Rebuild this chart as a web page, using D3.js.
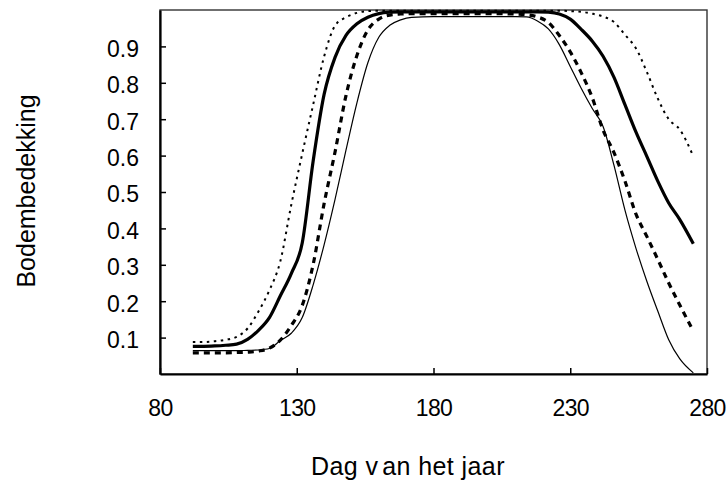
<!DOCTYPE html>
<html>
<head>
<meta charset="utf-8">
<script src="https://cdn.jsdelivr.net/npm/d3@7"></script>
<style>
  html, body { margin: 0; padding: 0; background: #fff; }
  svg { display: block; }
</style>
</head>
<body>
<svg id="chart" width="728" height="484"></svg>
<script>
// Dag van het jaar (gedeelde x-waarden voor alle reeksen)
const days = [92, 96, 100, 104, 108, 112, 116, 120, 124, 128, 132, 136, 140, 144, 148,
  152, 156, 160, 164, 168, 172, 180, 190, 200, 210, 214, 218, 222, 226, 230, 234, 238,
  242, 246, 250, 254, 258, 262, 266, 270, 275];

// Bodembedekking per reeks
const dotted = [0.088, 0.088, 0.090, 0.094, 0.102, 0.125, 0.172, 0.230, 0.310, 0.465, 0.605,
  0.740, 0.872, 0.957, 0.980, 0.992, 0.997, 0.998, 0.998, 0.998, 0.998, 0.998, 0.998, 0.998,
  0.998, 0.998, 0.998, 0.998, 0.998, 0.997, 0.995, 0.990, 0.982, 0.967, 0.932, 0.895, 0.830,
  0.757, 0.700, 0.672, 0.598];

const thick = [0.076, 0.076, 0.077, 0.079, 0.082, 0.095, 0.120, 0.155, 0.215, 0.276, 0.360,
  0.585, 0.768, 0.870, 0.930, 0.962, 0.980, 0.990, 0.994, 0.995, 0.995, 0.995, 0.995, 0.995,
  0.995, 0.995, 0.995, 0.994, 0.989, 0.975, 0.947, 0.915, 0.873, 0.815, 0.740, 0.665, 0.598,
  0.530, 0.470, 0.425, 0.358];

const dashed = [0.058, 0.058, 0.058, 0.058, 0.059, 0.060, 0.063, 0.071, 0.093, 0.133, 0.188,
  0.301, 0.468, 0.610, 0.765, 0.875, 0.945, 0.975, 0.986, 0.989, 0.990, 0.990, 0.990, 0.990,
  0.989, 0.987, 0.981, 0.966, 0.930, 0.885, 0.828, 0.760, 0.670, 0.608, 0.530, 0.440, 0.378,
  0.315, 0.250, 0.190, 0.118];

const thin = [0.064, 0.064, 0.064, 0.064, 0.064, 0.065, 0.066, 0.070, 0.092, 0.112, 0.155,
  0.245, 0.355, 0.480, 0.615, 0.745, 0.855, 0.925, 0.958, 0.973, 0.980, 0.982, 0.982, 0.982,
  0.982, 0.981, 0.970, 0.948, 0.905, 0.845, 0.785, 0.730, 0.680, 0.573, 0.450, 0.346, 0.255,
  0.173, 0.094, 0.042, 0.003];

// As-instellingen
const xTicks = [80, 130, 180, 230, 280];
const yTicks = [0.1, 0.2, 0.3, 0.4, 0.5, 0.6, 0.7, 0.8, 0.9];
const xTitleParts = ["Dag v", "an het jaar"];
const yTitle = "Bodembedekking";

const svg = d3.select("#chart");
const plot = { left: 160, right: 707, top: 10, bottom: 374 };

const x = d3.scaleLinear().domain([80, 280]).range([plot.left, plot.right]);
const y = d3.scaleLinear().domain([0, 1]).range([plot.bottom, plot.top]);

// Kader rond het plotgebied
svg.append("rect")
  .attr("x", plot.left).attr("y", plot.top)
  .attr("width", plot.right - plot.left).attr("height", plot.bottom - plot.top)
  .attr("fill", "none").attr("stroke", "#333").attr("stroke-width", 1.4);

// Reeksen
const line = d3.line()
  .x((d, i) => x(days[i]))
  .y(d => y(d))
  .curve(d3.curveMonotoneX);

const series = [
  { values: thin,   width: 1.2, dash: null },
  { values: dashed, width: 3.2, dash: "6,5" },
  { values: thick,  width: 3.2, dash: null },
  { values: dotted, width: 2,   dash: "2.5,4.5" }
];

svg.append("g").selectAll("path")
  .data(series)
  .join("path")
  .attr("d", s => line(s.values))
  .attr("fill", "none")
  .attr("stroke", "#000")
  .attr("stroke-width", s => s.width)
  .attr("stroke-dasharray", s => s.dash)
  .attr("stroke-linejoin", "round");

// Y-as
const yAxis = svg.append("g")
  .attr("transform", `translate(${plot.left},0)`)
  .call(d3.axisLeft(y).tickValues(yTicks).tickFormat(d3.format(".1f"))
    .tickSize(-6).tickSizeOuter(0).tickPadding(21));
yAxis.select(".domain").attr("stroke", "#000").attr("stroke-width", 2.2);
yAxis.selectAll(".tick line").attr("stroke", "#000").attr("stroke-width", 1.5);
yAxis.selectAll(".tick text")
  .attr("dy", "0.43em")
  .attr("fill", "#000")
  .style("font-family", "'Liberation Sans', Arial, sans-serif")
  .style("font-size", "23px");

// X-as
const xAxis = svg.append("g")
  .attr("transform", `translate(0,${plot.bottom})`)
  .call(d3.axisBottom(x).tickValues(xTicks).tickFormat(d3.format("d"))
    .tickSize(-6).tickSizeOuter(0).tickPadding(26));
xAxis.select(".domain").attr("stroke", "#000").attr("stroke-width", 2.2);
xAxis.selectAll(".tick line").attr("stroke", "#000").attr("stroke-width", 1.5);
xAxis.selectAll(".tick text")
  .attr("fill", "#000")
  .style("font-family", "'Liberation Sans', Arial, sans-serif")
  .style("font-size", "23px")
  .style("letter-spacing", "-0.6px");

// Astitels
const xt = svg.append("text")
  .attr("x", 311).attr("y", 475)
  .attr("text-anchor", "start")
  .style("font-family", "'Liberation Sans', Arial, sans-serif")
  .style("font-size", "25px")
  .style("letter-spacing", "0.4px");
xt.selectAll("tspan")
  .data(xTitleParts)
  .join("tspan")
  .attr("dx", (d, i) => i === 0 ? 0 : 4)
  .text(d => d);

svg.append("text")
  .attr("transform", "translate(35,191) rotate(-90)")
  .attr("text-anchor", "middle")
  .style("font-family", "'Liberation Sans', Arial, sans-serif")
  .style("font-size", "25px")
  .text(yTitle);
</script>
</body>
</html>
